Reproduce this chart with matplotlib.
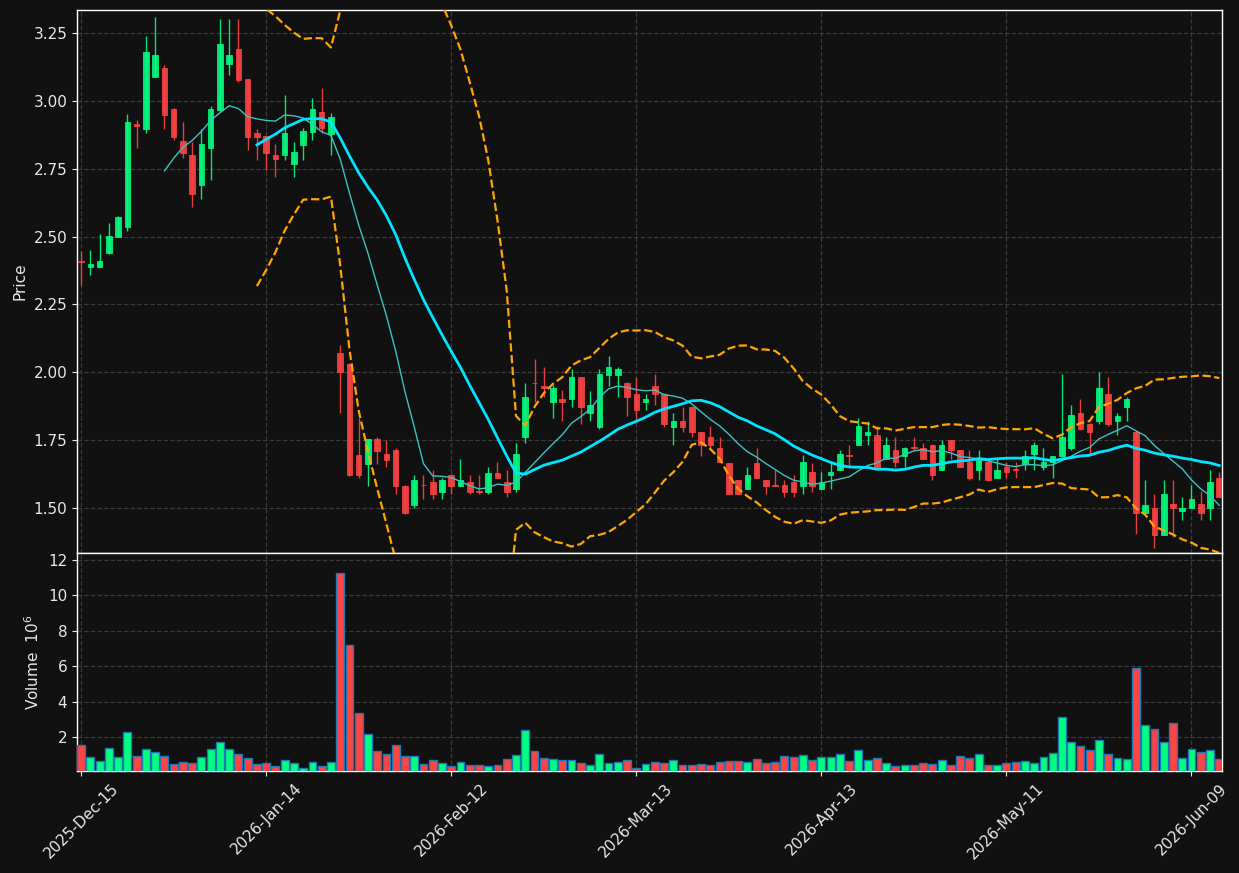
import numpy as np
import pandas as pd
import matplotlib
matplotlib.use("Agg")
import matplotlib.pyplot as plt
from matplotlib.ticker import FixedLocator, FuncFormatter

# trading calendar (US exchange holidays removed)
holidays = ["2025-12-25", "2026-01-01", "2026-01-19", "2026-02-16", "2026-04-03", "2026-05-25"]
dates = pd.bdate_range("2025-12-15", "2026-06-12", freq="C", holidays=holidays)

opens = [
    2.410, 2.388, 2.388, 2.438, 2.500, 2.536, 2.913, 2.897, 3.089, 3.121,
    2.970, 2.852, 2.801, 2.689, 2.828, 2.966, 3.137, 3.190, 3.080, 2.882,
    2.870, 2.801, 2.799, 2.768, 2.838, 2.887, 2.958, 2.878, 2.072, 2.031,
    1.694, 1.662, 1.753, 1.700, 1.712, 1.581, 1.511, 1.585, 1.594, 1.558,
    1.623, 1.581, 1.594, 1.561, 1.558, 1.629, 1.594, 1.568, 1.760, 1.962,
    1.951, 1.889, 1.902, 1.901, 1.981, 1.850, 1.800, 1.989, 1.989, 1.961,
    1.921, 1.889, 1.951, 1.920, 1.800, 1.820, 1.873, 1.779, 1.763, 1.722,
    1.664, 1.602, 1.571, 1.664, 1.602, 1.583, 1.583, 1.594, 1.581, 1.631,
    1.571, 1.621, 1.641, 1.694, 1.732, 1.768, 1.770, 1.681, 1.712, 1.691,
    1.723, 1.722, 1.732, 1.641, 1.750, 1.712, 1.671, 1.641, 1.671, 1.611,
    1.652, 1.642, 1.662, 1.700, 1.652, 1.671, 1.691, 1.722, 1.850, 1.810,
    1.820, 1.920, 1.820, 1.871, 1.781, 1.481, 1.501, 1.401, 1.513, 1.490,
    1.501, 1.513, 1.501, 1.611,
]
highs = [
    2.448, 2.451, 2.508, 2.550, 2.575, 2.952, 2.929, 3.238, 3.309, 3.132,
    2.972, 2.921, 2.850, 2.896, 2.980, 3.300, 3.300, 3.300, 3.082, 2.898,
    2.872, 2.840, 3.020, 2.850, 2.900, 3.010, 3.049, 2.957, 2.100, 2.033,
    1.832, 1.755, 1.763, 1.750, 1.722, 1.583, 1.623, 1.623, 1.641, 1.611,
    1.625, 1.681, 1.623, 1.623, 1.652, 1.671, 1.641, 1.740, 1.960, 2.050,
    2.021, 1.953, 1.933, 2.011, 1.983, 1.930, 2.011, 2.060, 2.021, 1.963,
    1.981, 1.920, 1.992, 1.922, 1.850, 1.873, 1.875, 1.781, 1.802, 1.760,
    1.666, 1.604, 1.652, 1.722, 1.604, 1.641, 1.602, 1.623, 1.694, 1.664,
    1.631, 1.671, 1.712, 1.732, 1.832, 1.820, 1.802, 1.760, 1.760, 1.724,
    1.760, 1.740, 1.734, 1.750, 1.752, 1.714, 1.712, 1.712, 1.681, 1.681,
    1.671, 1.671, 1.712, 1.742, 1.722, 1.693, 1.992, 1.880, 1.902, 1.812,
    2.001, 1.981, 1.850, 1.910, 1.783, 1.602, 1.552, 1.602, 1.602, 1.542,
    1.584, 1.561, 1.641, 1.631,
]
lows = [
    2.320, 2.359, 2.386, 2.436, 2.497, 2.519, 2.828, 2.880, 3.087, 2.898,
    2.857, 2.788, 2.608, 2.640, 2.710, 2.964, 3.097, 3.068, 2.818, 2.781,
    2.747, 2.719, 2.781, 2.719, 2.781, 2.857, 2.880, 2.800, 1.850, 1.619,
    1.611, 1.581, 1.662, 1.652, 1.553, 1.479, 1.501, 1.531, 1.533, 1.531,
    1.552, 1.579, 1.553, 1.553, 1.553, 1.609, 1.542, 1.558, 1.740, 1.891,
    1.910, 1.832, 1.820, 1.873, 1.810, 1.820, 1.790, 1.951, 1.910, 1.840,
    1.829, 1.860, 1.880, 1.800, 1.732, 1.779, 1.760, 1.691, 1.719, 1.669,
    1.551, 1.551, 1.569, 1.609, 1.553, 1.580, 1.542, 1.542, 1.553, 1.558,
    1.569, 1.571, 1.639, 1.652, 1.730, 1.732, 1.647, 1.679, 1.652, 1.652,
    1.712, 1.679, 1.602, 1.639, 1.681, 1.650, 1.602, 1.602, 1.600, 1.609,
    1.611, 1.611, 1.641, 1.641, 1.641, 1.611, 1.689, 1.712, 1.788, 1.700,
    1.810, 1.802, 1.770, 1.820, 1.403, 1.479, 1.351, 1.399, 1.391, 1.454,
    1.499, 1.454, 1.454, 1.540,
]
closes = [
    2.405, 2.400, 2.411, 2.502, 2.572, 2.923, 2.909, 3.180, 3.168, 2.949,
    2.868, 2.809, 2.658, 2.841, 2.970, 3.209, 3.168, 3.077, 2.868, 2.868,
    2.809, 2.787, 2.882, 2.811, 2.889, 2.970, 2.900, 2.939, 2.001, 1.621,
    1.621, 1.753, 1.709, 1.678, 1.581, 1.481, 1.602, 1.583, 1.552, 1.602,
    1.581, 1.602, 1.558, 1.557, 1.629, 1.611, 1.558, 1.700, 1.910, 1.960,
    1.941, 1.943, 1.889, 1.981, 1.871, 1.880, 1.992, 2.021, 2.011, 1.910,
    1.860, 1.902, 1.918, 1.809, 1.820, 1.800, 1.779, 1.732, 1.732, 1.671,
    1.553, 1.553, 1.623, 1.611, 1.581, 1.581, 1.558, 1.558, 1.671, 1.581,
    1.594, 1.631, 1.700, 1.690, 1.802, 1.781, 1.649, 1.732, 1.671, 1.722,
    1.721, 1.681, 1.621, 1.732, 1.712, 1.652, 1.611, 1.681, 1.602, 1.641,
    1.631, 1.640, 1.691, 1.732, 1.671, 1.691, 1.763, 1.841, 1.790, 1.779,
    1.943, 1.810, 1.840, 1.902, 1.481, 1.511, 1.401, 1.553, 1.501, 1.501,
    1.531, 1.481, 1.594, 1.542,
]
# volume in millions
volumes = [
    1.55, 0.90, 0.67, 1.36, 0.85, 2.27, 0.96, 1.30, 1.13, 0.96,
    0.50, 0.62, 0.56, 0.90, 1.30, 1.70, 1.30, 1.02, 0.80, 0.47,
    0.52, 0.35, 0.73, 0.52, 0.28, 0.62, 0.35, 0.58, 11.26, 7.17,
    3.36, 2.17, 1.20, 1.03, 1.55, 0.92, 0.92, 0.47, 0.69, 0.52,
    0.35, 0.58, 0.41, 0.41, 0.35, 0.41, 0.75, 0.98, 2.40, 1.20,
    0.81, 0.75, 0.69, 0.69, 0.52, 0.41, 1.03, 0.52, 0.58, 0.69,
    0.28, 0.47, 0.58, 0.52, 0.69, 0.41, 0.41, 0.47, 0.41, 0.58,
    0.64, 0.64, 0.58, 0.75, 0.52, 0.58, 0.92, 0.86, 0.98, 0.69,
    0.86, 0.86, 1.03, 0.64, 1.26, 0.69, 0.81, 0.52, 0.35, 0.41,
    0.41, 0.52, 0.47, 0.69, 0.41, 0.92, 0.81, 1.03, 0.41, 0.41,
    0.52, 0.58, 0.64, 0.52, 0.86, 1.09, 3.14, 1.72, 1.49, 1.26,
    1.83, 1.03, 0.81, 0.75, 5.92, 2.68, 2.45, 1.72, 2.80, 0.81,
    1.32, 1.15, 1.26, 0.75,
]

df = pd.DataFrame({"Open": opens, "High": highs, "Low": lows,
                   "Close": closes, "Volume": volumes}, index=dates)

BG = "#111111"
UP = "#00ff80"
DOWN = "#ff4444"
GRID = "#3a3a3a"
TXT = "#e8e8e8"

xs = np.arange(len(df))
up = (df["Close"] >= df["Open"]).values
colors = np.where(up, UP, DOWN)

mav10 = df["Close"].rolling(10).mean()
mav20 = df["Close"].rolling(20).mean()
std20 = df["Close"].rolling(20).std(ddof=0)
bb_up = mav20 + 2 * std20
bb_lo = mav20 - 2 * std20

fig = plt.figure(figsize=(12.39, 8.73), dpi=100, facecolor=BG)
ax = fig.add_axes([0.0621, 0.3666, 0.9242, 0.6220])
axv = fig.add_axes([0.0621, 0.1168, 0.9242, 0.2497], sharex=ax)

for a in (ax, axv):
    a.set_facecolor(BG)
    a.grid(True, linestyle="--", color=GRID, linewidth=0.9)
    a.set_axisbelow(True)
    for s in a.spines.values():
        s.set_color("white")
        s.set_linewidth(1.0)
    a.tick_params(colors=TXT, labelsize=11)

# candles
ax.vlines(xs, df["Low"], df["High"], colors=colors, linewidth=1.0, alpha=0.9, zorder=2)
body_lo = np.minimum(df["Open"], df["Close"])
body_h = np.abs(df["Close"] - df["Open"])
ax.bar(xs, body_h, bottom=body_lo, width=0.6, color=colors, edgecolor=colors,
       linewidth=0.6, alpha=0.9, zorder=3)

# moving averages and bands
ax.plot(xs, mav10, color="#3fc1c0", linewidth=1.0, zorder=4)
ax.plot(xs, mav20, color="#00e5ff", linewidth=2.0, zorder=4)
ax.plot(xs, bb_up, color="orange", linestyle="--", linewidth=1.6, zorder=4)
ax.plot(xs, bb_lo, color="orange", linestyle="--", linewidth=1.6, zorder=4)

ax.set_ylim(1.334, 3.335)
ax.set_xlim(-0.45, len(df) - 0.7)
ax.yaxis.set_major_formatter(FuncFormatter(lambda v, p: f"{v:.2f}"))
ax.set_ylabel("Price", color=TXT, fontsize=11)
ax.tick_params(axis="x", labelbottom=False, length=0)

# volume
axv.bar(xs, df["Volume"], width=0.85, color=colors, edgecolor="#1f77b4", linewidth=1.0, zorder=3)
vol = df["Volume"].values
axv.set_ylim(0.3 * vol.min(), 1.1 * vol.max())
axv.set_ylabel("Volume  $10^{6}$", color=TXT, fontsize=11)

tick_pos = xs[::20]
axv.xaxis.set_major_locator(FixedLocator(tick_pos))
axv.set_xticklabels([d.strftime("%Y-%b-%d") for d in dates[::20]],
                    rotation=45, ha="center", fontsize=11, color=TXT)

fig.savefig("out.png", dpi=100, facecolor=BG)
